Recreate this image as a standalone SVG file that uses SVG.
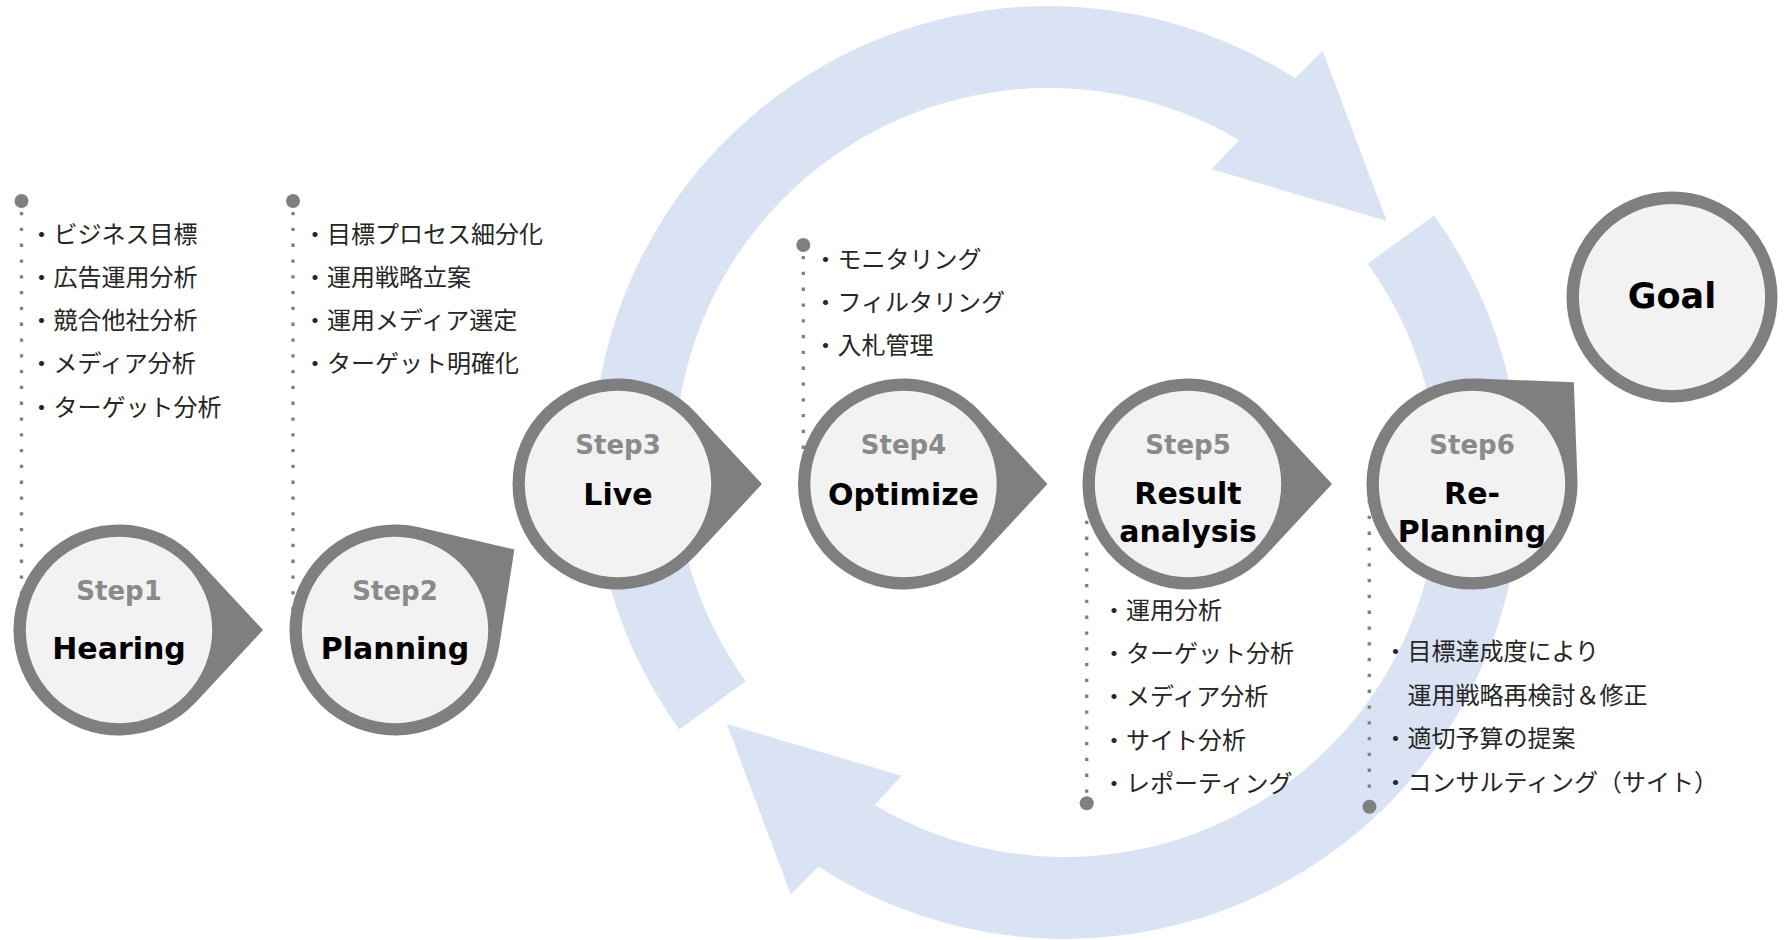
<svg xmlns="http://www.w3.org/2000/svg" xmlns:xlink="http://www.w3.org/1999/xlink" width="1787" height="940" viewBox="0 0 1787 940">
  <style>
    .band { fill: #dae3f3; }
    .drop { fill: #7f7f7f; }
    .inner { fill: #f2f2f2; }
    .goal { fill: #f2f2f2; stroke: #7f7f7f; stroke-width: 12.4; }
    .step { font-family: "DejaVu Sans", "Liberation Sans", sans-serif; font-weight: bold; font-size: 26px; fill: #8a8a8a; text-anchor: middle; }
    .title { font-family: "DejaVu Sans", "Liberation Sans", sans-serif; font-weight: bold; font-size: 30px; fill: #000000; text-anchor: middle; }
    .goaltxt { font-family: "DejaVu Sans", "Liberation Sans", sans-serif; font-weight: bold; font-size: 35px; fill: #000000; text-anchor: middle; }
    .list { font-family: "Noto Sans CJK JP", "Noto Sans", sans-serif; font-size: 24px; fill: #262626; }
    .dots { stroke: #808080; stroke-width: 3.3; stroke-dasharray: 3.3 12.5; fill: none; }
    .pin { fill: #808080; }
  </style>
  <defs>
    <path id="arrow" class="band" d="M 679.3 729.4 A 456 456 0 0 1 1295 78.3 L 1322.7 50.7 L 1386.7 221 L 1211.7 169.3 L 1238.8 139.9 A 374 374 0 0 0 745.8 681.3 Z"/>
    <path id="drop" class="drop" d="M 77.3 -71.8 L 144 0 L 77.3 71.8 A 105.5 105.5 0 1 1 77.3 -71.8 Z"/>
  </defs>

  <g id="connectors">
    <use xlink:href="#arrow" href="#arrow"/>
    <use xlink:href="#arrow" href="#arrow" transform="rotate(180 1056.7 472.5)"/>
  </g>

  <g id="lists">
    <g id="list1">
      <line class="dots" x1="21.5" y1="212" x2="21.5" y2="600"/>
      <circle class="pin" cx="21.5" cy="201" r="7"/>
      <text class="list" x="29.5" y="242.5">・ビジネス目標</text>
      <text class="list" x="29.5" y="285.8">・広告運用分析</text>
      <text class="list" x="29.5" y="329.1">・競合他社分析</text>
      <text class="list" x="29.5" y="372.4">・メディア分析</text>
      <text class="list" x="29.5" y="415.7">・ターゲット分析</text>
    </g>
    <g id="list2">
      <line class="dots" x1="293" y1="212" x2="293" y2="612"/>
      <circle class="pin" cx="293" cy="201" r="7"/>
      <text class="list" x="303" y="242.5">・目標プロセス細分化</text>
      <text class="list" x="303" y="285.8">・運用戦略立案</text>
      <text class="list" x="303" y="329.1">・運用メディア選定</text>
      <text class="list" x="303" y="372.4">・ターゲット明確化</text>
    </g>
    <g id="list4">
      <line class="dots" x1="803.3" y1="256" x2="803.3" y2="465"/>
      <circle class="pin" cx="803.3" cy="245" r="7"/>
      <text class="list" x="813.5" y="267.7">・モニタリング</text>
      <text class="list" x="813.5" y="311">・フィルタリング</text>
      <text class="list" x="813.5" y="354.3">・入札管理</text>
    </g>
    <g id="list5">
      <line class="dots" x1="1086.7" y1="505" x2="1086.7" y2="793"/>
      <circle class="pin" cx="1086.7" cy="803.3" r="7"/>
      <text class="list" x="1102" y="618.6">・運用分析</text>
      <text class="list" x="1102" y="661.9">・ターゲット分析</text>
      <text class="list" x="1102" y="705.2">・メディア分析</text>
      <text class="list" x="1102" y="748.5">・サイト分析</text>
      <text class="list" x="1102" y="791.8">・レポーティング</text>
    </g>
    <g id="list6">
      <line class="dots" x1="1369.3" y1="500" x2="1369.3" y2="796"/>
      <circle class="pin" cx="1369.5" cy="806.7" r="7"/>
      <text class="list" x="1383.5" y="660.2">・目標達成度により</text>
      <text class="list" x="1407.5" y="703.7">運用戦略再検討＆修正</text>
      <text class="list" x="1383.5" y="747.2">・適切予算の提案</text>
      <text class="list" x="1383.5" y="790.7">・コンサルティング（サイト）</text>
    </g>
  </g>

  <g id="step1">
    <g transform="translate(119 630)">
      <use xlink:href="#drop" href="#drop"/>
      <circle class="inner" r="93.2"/>
    </g>
    <text class="step" x="119" y="599.6">Step1</text>
    <text class="title" x="119" y="658.6">Hearing</text>
  </g>

  <g id="step2">
    <g transform="translate(395 630) rotate(-34)">
      <use xlink:href="#drop" href="#drop"/>
      <circle class="inner" r="93.2"/>
    </g>
    <text class="step" x="395" y="599.6">Step2</text>
    <text class="title" x="395" y="658.6">Planning</text>
  </g>

  <g id="step3">
    <g transform="translate(618 484)">
      <use xlink:href="#drop" href="#drop"/>
      <circle class="inner" r="93.2"/>
    </g>
    <text class="step" x="618" y="454">Step3</text>
    <text class="title" x="618" y="505">Live</text>
  </g>

  <g id="step4">
    <g transform="translate(903.5 484)">
      <use xlink:href="#drop" href="#drop"/>
      <circle class="inner" r="93.2"/>
    </g>
    <text class="step" x="903.5" y="454">Step4</text>
    <text class="title" x="903.5" y="505">Optimize</text>
  </g>

  <g id="step5">
    <g transform="translate(1188 484)">
      <use xlink:href="#drop" href="#drop"/>
      <circle class="inner" r="93.2"/>
    </g>
    <text class="step" x="1188" y="453.5">Step5</text>
    <text class="title" x="1188" y="503.5">Result</text>
    <text class="title" x="1188" y="542">analysis</text>
  </g>

  <g id="step6">
    <g transform="translate(1472 484) rotate(-45)">
      <use xlink:href="#drop" href="#drop"/>
      <circle class="inner" r="93.2"/>
    </g>
    <text class="step" x="1472" y="453.5">Step6</text>
    <text class="title" x="1472" y="503.5">Re-</text>
    <text class="title" x="1472" y="542">Planning</text>
  </g>

  <g id="goal">
    <circle class="goal" cx="1672" cy="297" r="99.3"/>
    <text class="goaltxt" x="1672" y="308">Goal</text>
  </g>
</svg>
